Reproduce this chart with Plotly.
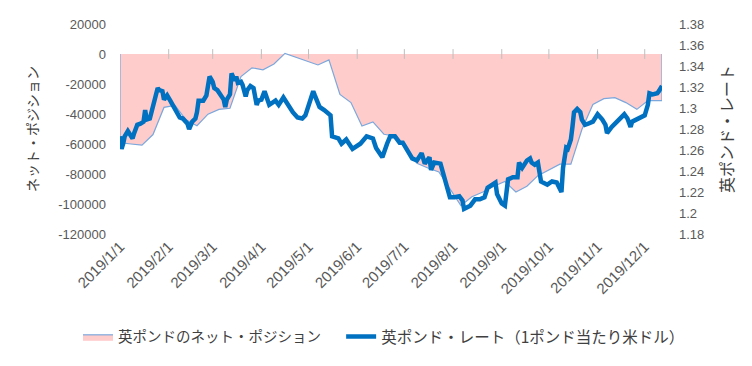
import plotly.graph_objects as go

# ---- weekly net position (contracts) ----
pos_dates = ["2019-01-01", "2019-01-08", "2019-01-15", "2019-01-22", "2019-01-29",
             "2019-02-05", "2019-02-12", "2019-02-19", "2019-02-26",
             "2019-03-05", "2019-03-12", "2019-03-19", "2019-03-26",
             "2019-04-02", "2019-04-09", "2019-04-16", "2019-04-23", "2019-04-30",
             "2019-05-07", "2019-05-14", "2019-05-21", "2019-05-28",
             "2019-06-04", "2019-06-11", "2019-06-18", "2019-06-25",
             "2019-07-02", "2019-07-09", "2019-07-16", "2019-07-23", "2019-07-30",
             "2019-08-06", "2019-08-13", "2019-08-20", "2019-08-27",
             "2019-09-03", "2019-09-10", "2019-09-17", "2019-09-24",
             "2019-10-01", "2019-10-08", "2019-10-15", "2019-10-22", "2019-10-29",
             "2019-11-05", "2019-11-12", "2019-11-19", "2019-11-26",
             "2019-12-03", "2019-12-10", "2019-12-12"]
pos_values = [-59100, -60000, -60800, -53700, -35600,
              -34300, -43900, -47800, -40100,
              -36900, -36200, -15000, -9200,
              -10500, -6700, 400, -2200, -5200,
              -7300, -3900, -27000, -32400,
              -48000, -45300, -53500, -54800,
              -62500, -72800, -76000, -78600, -90100,
              -101000, -95200, -92000, -88200,
              -85000, -92000, -88200, -81100,
              -77300, -73400, -73400, -50300, -33600,
              -29800, -29100, -32400, -36900,
              -31100, -31100, -31100]

# ---- GBP/USD rate ----
rate_dates = [
    "2019-01-01", "2019-01-02", "2019-01-03", "2019-01-04", "2019-01-06", "2019-01-09", "2019-01-10",
    "2019-01-12", "2019-01-14", "2019-01-16", "2019-01-17", "2019-01-18", "2019-01-20", "2019-01-22",
    "2019-01-23", "2019-01-24", "2019-01-25", "2019-01-26", "2019-01-28", "2019-01-29", "2019-01-31",
    "2019-02-02", "2019-02-04", "2019-02-06", "2019-02-08", "2019-02-10", "2019-02-13", "2019-02-14",
    "2019-02-16", "2019-02-18", "2019-02-19", "2019-02-20", "2019-02-23", "2019-02-25", "2019-02-27",
    "2019-03-01", "2019-03-02", "2019-03-04", "2019-03-06", "2019-03-08", "2019-03-09", "2019-03-10",
    "2019-03-12", "2019-03-13", "2019-03-15", "2019-03-16", "2019-03-17", "2019-03-19", "2019-03-20",
    "2019-03-22", "2019-03-23", "2019-03-25", "2019-03-27", "2019-03-29", "2019-03-30",
    "2019-04-01", "2019-04-03", "2019-04-05", "2019-04-06", "2019-04-10", "2019-04-12", "2019-04-15",
    "2019-04-17", "2019-04-19", "2019-04-21", "2019-04-24", "2019-04-27", "2019-04-29",
    "2019-05-01", "2019-05-02",
    "2019-05-04", "2019-05-05", "2019-05-08", "2019-05-11", "2019-05-15", "2019-05-16", "2019-05-20",
    "2019-05-22", "2019-05-25", "2019-05-29", "2019-06-03", "2019-06-07",
    "2019-06-11", "2019-06-13", "2019-06-17", "2019-06-20", "2019-06-22", "2019-06-25", "2019-06-28",
    "2019-06-30", "2019-07-03", "2019-07-06", "2019-07-09", "2019-07-12", "2019-07-14", "2019-07-17",
    "2019-07-18", "2019-07-20", "2019-07-24", "2019-07-25", "2019-07-28", "2019-07-30",
    "2019-08-02", "2019-08-05", "2019-08-07", "2019-08-08", "2019-08-12", "2019-08-15", "2019-08-18",
    "2019-08-21", "2019-08-23", "2019-08-26", "2019-08-28", "2019-08-29",
    "2019-09-01", "2019-09-03", "2019-09-05", "2019-09-08", "2019-09-11", "2019-09-12", "2019-09-14",
    "2019-09-17", "2019-09-19",
    "2019-09-20", "2019-09-22", "2019-09-24", "2019-09-26", "2019-09-30", "2019-10-03", "2019-10-06",
    "2019-10-09", "2019-10-10", "2019-10-12", "2019-10-13", "2019-10-15",
    "2019-10-16", "2019-10-17", "2019-10-19", "2019-10-21", "2019-10-22", "2019-10-24", "2019-10-26",
    "2019-10-29", "2019-11-01", "2019-11-04", "2019-11-06", "2019-11-07", "2019-11-10", "2019-11-12",
    "2019-11-15", "2019-11-18", "2019-11-20", "2019-11-22", "2019-11-23", "2019-11-26", "2019-11-28",
    "2019-12-01", "2019-12-03", "2019-12-04", "2019-12-06", "2019-12-09", "2019-12-10", "2019-12-12"]
rate_values = [
    1.273, 1.261, 1.266, 1.273, 1.278, 1.271, 1.276,
    1.284, 1.285, 1.287, 1.298, 1.289, 1.290, 1.301,
    1.307, 1.310, 1.319, 1.317, 1.316, 1.308, 1.312,
    1.307, 1.302, 1.296, 1.291, 1.290, 1.285, 1.280,
    1.287, 1.290, 1.296, 1.307, 1.307, 1.312, 1.330,
    1.325, 1.319, 1.317, 1.313, 1.308, 1.301, 1.308,
    1.313, 1.333, 1.326, 1.330, 1.324, 1.325, 1.322,
    1.311, 1.317, 1.321, 1.319, 1.303, 1.307,
    1.308, 1.316, 1.308, 1.303, 1.307, 1.303, 1.310,
    1.305, 1.301, 1.296, 1.291, 1.290, 1.293,
    1.301, 1.305,
    1.316, 1.312, 1.301, 1.298, 1.293, 1.273, 1.271,
    1.266, 1.270, 1.261, 1.266, 1.273,
    1.271, 1.262, 1.253, 1.266, 1.273, 1.273, 1.267,
    1.267, 1.259, 1.252, 1.250, 1.257, 1.247, 1.253,
    1.241, 1.248, 1.247, 1.241, 1.225, 1.215,
    1.215, 1.216, 1.212, 1.204, 1.207, 1.213, 1.213,
    1.215, 1.224, 1.227, 1.229, 1.218,
    1.209, 1.207, 1.232, 1.234, 1.234, 1.248, 1.243,
    1.250, 1.252,
    1.248, 1.246, 1.248, 1.230, 1.227, 1.230, 1.229,
    1.220, 1.243, 1.262, 1.261, 1.270,
    1.282, 1.296, 1.299, 1.296, 1.289, 1.284, 1.285,
    1.287, 1.294, 1.289, 1.284, 1.276, 1.282, 1.285,
    1.290, 1.294, 1.290, 1.282, 1.287, 1.289, 1.291,
    1.293, 1.303, 1.314, 1.313, 1.314, 1.316, 1.321]

# ---- axis ticks ----
month_ticks = ["2019-%02d-01" % m for m in range(1, 13)]
month_labels = ["2019/%d/1" % m for m in range(1, 13)]
left_ticks = [20000, 0, -20000, -40000, -60000, -80000, -100000, -120000]
left_labels = ["20000", "0", "-20000", "-40000", "-60000", "-80000", "-100000", "-120000"]
right_ticks = [1.38, 1.36, 1.34, 1.32, 1.30, 1.28, 1.26, 1.24, 1.22, 1.20, 1.18]
right_labels = ["1.38", "1.36", "1.34", "1.32", "1.3", "1.28", "1.26", "1.24", "1.22", "1.2", "1.18"]

name_pos = "英ポンドのネット・ポジション"
name_rate = "英ポンド・レート（1ポンド当たり米ドル）"

FONT = "Liberation Sans, Arial, Noto Sans CJK JP, sans-serif"
JFONT = "Noto Sans CJK JP, Liberation Sans, sans-serif"
GRAY = "#595959"

fig = go.Figure()

# closed polygon for area (outline around whole area, like Excel)
poly_x = [pos_dates[0]] + pos_dates + [pos_dates[-1]]
poly_y = [0] + pos_values + [0]
fig.add_trace(go.Scatter(
    x=poly_x, y=poly_y, name=name_pos, mode="lines", fill="toself",
    fillcolor="#FFCCCC", line=dict(color="#7BA7DC", width=1.2),
    hoverinfo="skip", legend="legend"))

# small tick marks on the zero line
fig.add_trace(go.Scatter(
    x=month_ticks[1:], y=[0] * (len(month_ticks) - 1), mode="markers",
    marker=dict(symbol="line-ns", size=7, line=dict(color="#BFBFBF", width=1)),
    showlegend=False, hoverinfo="skip"))

fig.add_trace(go.Scatter(
    x=rate_dates, y=rate_values, name=name_rate, mode="lines", yaxis="y2",
    line=dict(color="#0070C0", width=4.5), legend="legend2"))

# page body has an 8px margin, so the figure is offset by 8px
fig.update_layout(
    width=744, height=358,
    margin=dict(l=112, r=90, t=15.5, b=124.5),
    paper_bgcolor="white", plot_bgcolor="white",
    font=dict(family=FONT, size=13, color=GRAY),
    xaxis=dict(range=[pos_dates[0], pos_dates[-1]], tickvals=month_ticks, ticktext=month_labels,
               tickangle=-45, showgrid=False, zeroline=False, showline=False, ticks="",
               automargin=False, tickfont=dict(size=15, color=GRAY)),
    yaxis=dict(range=[-120000, 20000], tickvals=left_ticks, ticktext=left_labels,
               showgrid=False, zeroline=False, showline=False, ticks="",
               ticklabelstandoff=13, automargin=False,
               title=dict(text="ネット・ポジション", font=dict(family=JFONT, size=14, color="#404040"),
                          standoff=16)),
    yaxis2=dict(range=[1.18, 1.38], tickvals=right_ticks, ticktext=right_labels,
                overlaying="y", side="right", showgrid=False, zeroline=False, showline=False,
                ticks="", ticklabelstandoff=16, automargin=False,
                title=dict(text="英ポンド・レート", font=dict(family=JFONT, size=16, color="#404040"),
                           standoff=18)),
    legend=dict(orientation="h", x=-0.0775, xanchor="left", y=-0.49, yanchor="middle",
                font=dict(family=JFONT, size=14.5, color="#404040"), itemwidth=30),
    legend2=dict(orientation="h", x=0.408, xanchor="left", y=-0.49, yanchor="middle",
                 font=dict(family=JFONT, size=15.5, color="#404040"), itemwidth=30),
    showlegend=True,
)

fig.write_html("out.html")
